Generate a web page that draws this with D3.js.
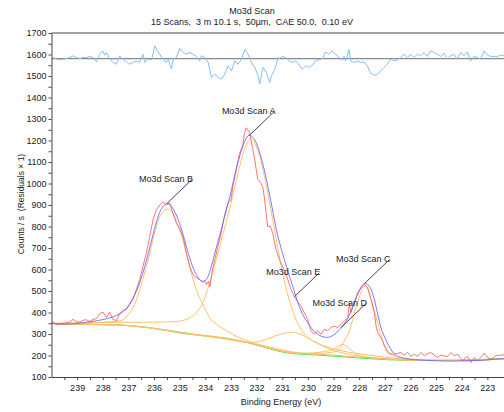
<!DOCTYPE html>
<html><head><meta charset="utf-8">
<script src="https://cdn.jsdelivr.net/npm/d3@7"></script>
<style>
html,body{margin:0;padding:0;background:#fff;overflow:hidden;}
svg{display:block;font-family:"Liberation Sans",Arial,sans-serif;}
text{white-space:pre;}
</style></head><body>
<svg id="chart" width="504" height="412"></svg>
<script>
// ---------------- DATA ----------------
const titleText = "Mo3d Scan";
const subtitleText = "15 Scans,  3 m 10.1 s,  50µm,  CAE 50.0,  0.10 eV";
const xAxisTitle = "Binding Energy (eV)";
const yAxisTitle = "Counts / s  (Residuals × 1)";

const xTickValues = [239,238,237,236,235,234,233,232,231,230,229,228,227,226,225,224,223];
const yTickValues = [100,200,300,400,500,600,700,800,900,1000,1100,1200,1300,1400,1500,1600,1700];

// measured spectrum [binding energy, counts/s]
const rawCounts = [[239.94,353],[239.84,346],[239.74,343],[239.64,348],[239.55,350],[239.42,352],[239.28,356],[239.16,368],[239.03,358],[238.90,355],[238.77,364],[238.64,366],[238.50,358],[238.38,368],[238.25,371],[238.11,396],[237.99,402],[237.86,377],[237.73,402],[237.60,368],[237.47,362],[237.34,396],[237.21,410],[237.08,414],[236.95,437],[236.82,461],[236.69,507],[236.56,553],[236.43,615],[236.30,677],[236.17,753],[236.04,831],[235.91,877],[235.78,900],[235.65,915],[235.52,900],[235.39,908],[235.26,862],[235.13,815],[235.00,790],[234.87,753],[234.74,677],[234.61,615],[234.48,576],[234.35,561],[234.22,553],[234.10,540],[234.02,548],[233.95,530],[233.88,545],[233.82,520],[233.76,575],[233.70,610],[233.62,650],[233.51,707],[233.40,760],[233.26,846],[233.12,908],[233.00,923],[232.93,985],[232.80,1062],[232.67,1139],[232.54,1177],[232.48,1231],[232.41,1259],[232.28,1239],[232.22,1201],[232.09,1123],[231.96,1023],[231.83,1000],[231.76,985],[231.70,938],[231.57,800],[231.46,800],[231.37,769],[231.24,692],[231.11,646],[230.92,599],[230.80,560],[230.66,507],[230.53,476],[230.40,450],[230.27,430],[230.14,399],[230.01,368],[229.88,315],[229.75,299],[229.62,315],[229.49,299],[229.36,322],[229.23,315],[229.10,330],[228.97,337],[228.84,330],[228.71,345],[228.58,360],[228.45,376],[228.38,445],[228.32,399],[228.19,445],[228.06,492],[227.93,515],[227.80,530],[227.67,515],[227.54,461],[227.41,399],[227.34,337],[227.28,307],[227.20,291],[227.10,272],[227.02,245],[226.89,214],[226.76,206],[226.63,206],[226.50,210],[226.37,214],[226.24,202],[226.11,214],[225.98,196],[225.85,206],[225.72,196],[225.59,214],[225.46,199],[225.33,208],[225.20,214],[225.07,202],[224.94,191],[224.81,202],[224.68,198],[224.55,196],[224.42,214],[224.29,199],[224.16,206],[224.06,190],[223.96,175],[223.86,190],[223.77,196],[223.64,168],[223.51,191],[223.38,175],[223.25,191],[223.12,211],[222.99,191],[222.86,183],[222.66,199],[222.47,202],[222.34,202]];

// fitted envelope
const envelope = [[240.0,352],[239.5,346],[239.0,349],[238.5,357],[238.0,367],[237.5,385],[237.2,405],[236.9,450],[236.6,525],[236.3,640],[236.0,780],[235.8,860],[235.6,900],[235.45,908],[235.3,890],[235.1,845],[234.9,775],[234.7,690],[234.5,615],[234.3,565],[234.1,545],[233.95,555],[233.8,600],[233.6,690],[233.4,775],[233.2,870],[233.0,960],[232.8,1065],[232.6,1150],[232.45,1200],[232.3,1224],[232.15,1215],[232.0,1185],[231.8,1110],[231.6,1010],[231.4,890],[231.2,770],[231.0,680],[230.8,600],[230.6,525],[230.4,450],[230.2,390],[230.0,352],[229.8,318],[229.6,298],[229.4,287],[229.25,284],[229.0,295],[228.8,315],[228.6,343],[228.4,385],[228.2,442],[228.0,500],[227.85,530],[227.77,535],[227.6,522],[227.45,480],[227.3,405],[227.15,330],[227.0,285],[226.8,235],[226.6,205],[226.4,192],[226.2,186],[225.8,180],[225.0,176],[224.5,174],[224.0,175],[223.2,178],[222.8,182],[222.3,186]];

// fitted components (each drawn on its background)
const compA = [[240.0,350],[239.0,352],[238.0,354],[237.0,355],[236.0,355],[235.5,356],[235.0,360],[234.6,376],[234.35,399],[234.1,445],[233.9,510],[233.7,590],[233.5,680],[233.3,770],[233.1,860],[232.9,960],[232.7,1060],[232.5,1150],[232.35,1195],[232.25,1208],[232.0,1170],[231.8,1090],[231.6,980],[231.4,850],[231.2,720],[231.0,590],[230.8,490],[230.6,410],[230.4,350],[230.2,310],[230.0,285],[229.6,255],[229.2,238],[228.8,225],[228.4,215],[228.0,208],[227.5,200],[227.0,192],[226.5,186],[226.0,182],[225.0,178],[224.0,177],[223.0,180],[222.3,185]];
const compB = [[240.0,350],[239.5,344],[239.0,349],[238.5,352],[238.0,354],[237.6,358],[237.3,362],[237.0,390],[236.8,425],[236.6,490],[236.4,570],[236.2,660],[236.0,760],[235.8,840],[235.6,875],[235.48,880],[235.3,868],[235.1,815],[234.9,748],[234.7,655],[234.5,565],[234.3,490],[234.1,438],[233.8,370],[233.5,340],[233.2,318],[232.8,290],[232.4,270],[232.0,255],[231.5,240],[231.0,226],[230.3,211],[229.5,205],[229.0,202],[228.3,195],[227.6,190],[227.0,185],[226.4,180],[225.8,178],[225.0,177],[224.0,177],[223.0,180],[222.3,185]];
const compC = [[240.0,349],[238.0,344],[236.8,338],[235.6,320],[234.4,298],[233.2,281],[232.3,260],[231.4,230],[230.6,212],[230.0,208],[229.5,210],[229.0,216],[228.8,226],[228.6,265],[228.45,295],[228.3,345],[228.2,395],[228.0,470],[227.9,505],[227.8,525],[227.7,518],[227.55,470],[227.4,405],[227.25,340],[227.1,275],[226.95,235],[226.8,210],[226.6,195],[226.3,187],[226.0,183],[225.0,178],[224.0,177],[223.0,180],[222.3,185]];
const compD = [[240.0,349],[238.0,344],[236.8,338],[235.6,320],[234.4,298],[233.2,281],[232.3,260],[231.4,232],[230.6,214],[230.0,211],[229.6,214],[229.3,220],[229.0,230],[228.8,244],[228.65,252],[228.5,244],[228.3,224],[228.1,205],[227.9,196],[227.5,189],[227.0,185],[226.0,179],[225.0,177],[224.0,177],[223.0,180],[222.3,185]];
const compE = [[240.0,348],[237.5,342],[236.3,330],[235.0,307],[234.0,290],[233.3,278],[232.8,268],[232.3,260],[231.9,265],[231.5,280],[231.1,298],[230.8,306],[230.6,308],[230.3,300],[230.0,282],[229.7,262],[229.3,237],[228.9,220],[228.5,208],[228.0,198],[227.5,190],[227.0,184],[226.0,178],[225.0,176],[224.0,176],[223.0,180],[222.3,185]];

// background
const background = [[240.0,348],[239.0,346],[238.0,343],[237.4,342],[236.8,337],[236.2,329],[235.6,318],[235.0,305],[234.4,296],[233.8,288],[233.2,279],[232.7,268],[232.3,258],[231.9,245],[231.4,228],[230.9,214],[230.4,207],[229.6,202],[228.9,196],[228.3,191],[227.7,186],[227.0,181],[226.3,178],[225.7,177],[225.0,177],[224.3,178],[223.6,180],[222.9,183],[222.3,186]];

// residuals (plotted offset around reference level)
const residualLevel = 1581;
const residuals = [[239.94,1586],[239.81,1578],[239.68,1575],[239.55,1578],[239.42,1581],[239.29,1586],[239.16,1594],[239.03,1586],[238.90,1581],[238.77,1586],[238.64,1586],[238.51,1591],[238.38,1586],[238.25,1566],[238.12,1601],[238.01,1617],[237.92,1597],[237.86,1609],[237.73,1578],[237.60,1563],[237.47,1555],[237.34,1594],[237.21,1578],[237.08,1566],[236.95,1555],[236.82,1563],[236.69,1570],[236.56,1563],[236.43,1601],[236.36,1563],[236.23,1578],[236.10,1575],[235.97,1640],[235.91,1624],[235.78,1601],[235.65,1578],[235.52,1563],[235.45,1578],[235.32,1532],[235.26,1578],[235.13,1586],[235.00,1628],[234.87,1609],[234.74,1601],[234.61,1609],[234.48,1601],[234.35,1591],[234.22,1570],[234.15,1594],[234.02,1586],[233.89,1563],[233.76,1493],[233.63,1509],[233.50,1493],[233.37,1486],[233.24,1509],[233.11,1547],[232.98,1524],[232.85,1570],[232.72,1555],[232.59,1578],[232.46,1624],[232.33,1601],[232.20,1563],[232.07,1540],[231.94,1501],[231.88,1463],[231.75,1540],[231.62,1517],[231.49,1470],[231.42,1501],[231.29,1532],[231.16,1586],[231.13,1581],[230.99,1591],[230.86,1586],[230.73,1570],[230.61,1563],[230.48,1570],[230.35,1555],[230.22,1532],[230.09,1547],[229.96,1540],[229.83,1550],[229.70,1570],[229.57,1575],[229.43,1581],[229.31,1612],[229.18,1601],[229.05,1617],[228.92,1601],[228.79,1586],[228.66,1575],[228.59,1591],[228.53,1570],[228.46,1594],[228.40,1624],[228.33,1570],[228.20,1563],[228.07,1570],[227.94,1563],[227.81,1566],[227.68,1547],[227.55,1513],[227.42,1504],[227.29,1507],[227.16,1524],[227.03,1540],[226.90,1555],[226.77,1578],[226.64,1570],[226.51,1575],[226.38,1586],[226.25,1601],[226.12,1586],[225.99,1601],[225.86,1586],[225.73,1601],[225.60,1594],[225.47,1609],[225.34,1591],[225.21,1617],[225.08,1609],[224.95,1601],[224.82,1591],[224.69,1606],[224.56,1578],[224.43,1594],[224.30,1601],[224.17,1578],[224.04,1609],[223.91,1594],[223.78,1612],[223.65,1570],[223.52,1591],[223.39,1586],[223.26,1578],[223.13,1617],[223.00,1597],[222.87,1591],[222.74,1591],[222.61,1591],[222.48,1597],[222.35,1594]];

// peak annotations: name, anchor energy, anchor counts
const peakNames = ["Mo3d Scan A","Mo3d Scan B","Mo3d Scan C","Mo3d Scan D","Mo3d Scan E"];
const peakAnchorE = [232.28, 235.49, 227.79, 228.71, 230.53];
const peakAnchorC = [1224, 908, 535, 330, 473];

// ---------------- DRAW ----------------
const W = 504, H = 412;
const svg = d3.select("#chart");
const x = d3.scaleLinear().domain([240, 222]).range([51.5, 513]);
const y = d3.scaleLinear().domain([100, 1700]).range([377, 33]);
const pLeft = x(240), pRight = W, pTop = y(1700), pBottom = y(100);

svg.append("defs").append("clipPath").attr("id","plotclip")
  .append("rect").attr("x", pLeft).attr("y", pTop).attr("width", pRight-pLeft).attr("height", pBottom-pTop);

const plot = svg.append("g").attr("clip-path","url(#plotclip)");

const smooth = d3.line().x(d=>x(d[0])).y(d=>y(d[1])).curve(d3.curveMonotoneX);
const jagged = d3.line().x(d=>x(d[0])).y(d=>y(d[1]));

// residual reference line
plot.append("line").attr("x1", pLeft).attr("x2", pRight)
  .attr("y1", y(residualLevel)).attr("y2", y(residualLevel))
  .attr("stroke", "#8a8a8a").attr("stroke-width", 1.2);
plot.append("path").datum(residuals).attr("d", jagged)
  .attr("fill","none").attr("stroke","#86bdfa").attr("stroke-width",1);

plot.append("path").datum(background).attr("d", smooth)
  .attr("fill","none").attr("stroke","#3fe03f").attr("stroke-width",1);

[compA, compB, compC, compD, compE].forEach(c => {
  plot.append("path").datum(c).attr("d", smooth)
    .attr("fill","none").attr("stroke","#ffc06a").attr("stroke-width",1);
});

plot.append("path").datum(rawCounts).attr("d", jagged)
  .attr("fill","none").attr("stroke","#ff5a5a").attr("stroke-opacity",0.85).attr("stroke-width",1);
plot.append("path").datum(envelope).attr("d", smooth)
  .attr("fill","none").attr("stroke","#6464ff").attr("stroke-opacity",0.85).attr("stroke-width",1);

// annotations
const lab = svg.append("g");
peakNames.forEach((name, i) => {
  const ax = x(peakAnchorE[i]), ay = y(peakAnchorC[i]);
  const ex = ax + 25, ey = ay - 24;
  lab.append("line").attr("x1", ax).attr("y1", ay).attr("x2", ex).attr("y2", ey)
    .attr("stroke","#444").attr("stroke-width",1);
  lab.append("text").attr("x", ex + 1).attr("y", ey + 2.5).attr("text-anchor","end")
    .attr("font-size", 9).attr("fill","#222").text(name);
});

// axes
const axisG = svg.append("g");
axisG.append("line").attr("x1", pLeft).attr("x2", pRight).attr("y1", pTop).attr("y2", pTop)
  .attr("stroke","#444").attr("stroke-width",1);

const yAxis = d3.axisLeft(y).tickValues(yTickValues).tickSize(3).tickSizeOuter(0).tickPadding(2).tickFormat(d3.format("d"));
axisG.append("g").attr("transform", `translate(${pLeft},0)`).call(yAxis);
const yMinor = d3.axisLeft(y).tickValues(yTickValues.slice(0,-1).map(v=>v+50)).tickSize(3).tickSizeOuter(0).tickFormat("");
axisG.append("g").attr("transform", `translate(${pLeft},0)`).call(yMinor).select(".domain").remove();

const xAxis = d3.axisBottom(x).tickValues(xTickValues).tickSize(3).tickSizeOuter(0).tickPadding(5).tickFormat(d3.format("d"));
axisG.append("g").attr("transform", `translate(0,${pBottom})`).call(xAxis);
const xMinor = d3.axisBottom(x).tickValues(xTickValues.map(v=>v+0.5)).tickSize(3).tickSizeOuter(0).tickFormat("");
axisG.append("g").attr("transform", `translate(0,${pBottom})`).call(xMinor).select(".domain").remove();

axisG.selectAll(".domain").attr("stroke","#444");
axisG.selectAll(".tick line").attr("stroke","#444");
axisG.selectAll(".tick text").attr("font-size", 9).attr("fill","#222")
  .attr("font-family",'"Liberation Sans",Arial,sans-serif');

// titles
svg.append("text").attr("x", 252).attr("y", 14).attr("text-anchor","middle")
  .attr("font-size", 9).attr("fill","#222").text(titleText);
svg.append("text").attr("x", 252).attr("y", 25).attr("text-anchor","middle")
  .attr("font-size", 9).attr("fill","#222").text(subtitleText);
svg.append("text").attr("x", 281).attr("y", 405).attr("text-anchor","middle")
  .attr("font-size", 9).attr("fill","#222").text(xAxisTitle);
svg.append("text").attr("transform", "translate(24,204) rotate(-90)").attr("text-anchor","middle")
  .attr("font-size", 8.5).attr("fill","#222").text(yAxisTitle);
</script>
</body></html>
